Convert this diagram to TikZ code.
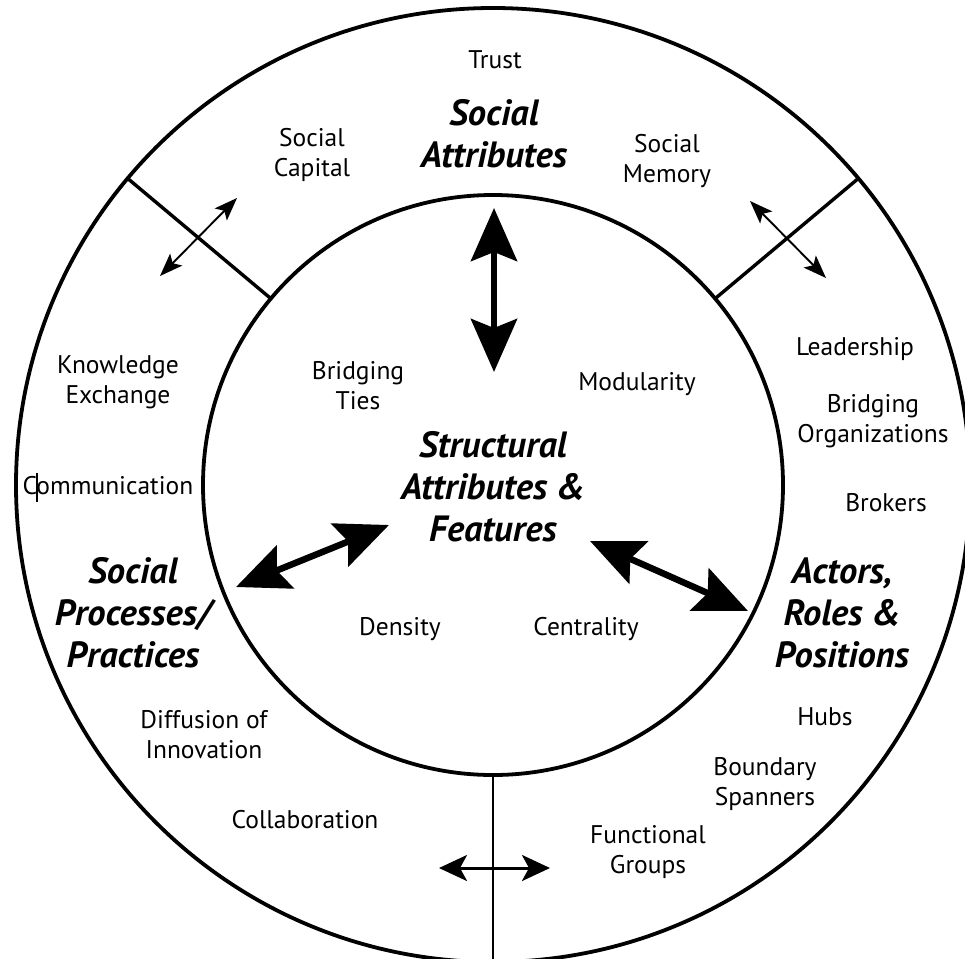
\documentclass[tikz,border=0pt]{standalone}
\usepackage{fontspec}
\setmainfont{PT Sans}
\usetikzlibrary{arrows.meta,calc}
\begin{document}
\begin{tikzpicture}[x=1pt,y=-1pt,
  lbl/.style={align=center, inner sep=0pt, font=\fontsize{25.5}{30}\selectfont},
  hdr/.style={align=center, inner sep=0pt, font=\fontsize{36.5}{42}\selectfont\bfseries\itshape},
  ring/.style={line width=3.8pt},
  divider/.style={line width=3.4pt},
  thinline/.style={line width=2pt},
  cursorbar/.style={line width=1.2pt},
  bigarrow/.style={line width=6.5pt, {Stealth[length=53pt,width=46pt,inset=9pt]}-{Stealth[length=53pt,width=46pt,inset=9pt]}},
  smallarrow/.style={line width=1.9pt, {Stealth[length=23pt,width=17pt,inset=5pt]}-{Stealth[length=23pt,width=17pt,inset=5pt]}},
  midarrow/.style={line width=3pt, {Stealth[length=28pt,width=26pt,inset=7pt]}-{Stealth[length=28pt,width=26pt,inset=7pt]}}
]
\useasboundingbox (0,0) rectangle (965,958);
\fill[white] (0,0) rectangle (965,958);

\coordinate (c) at (493,485);
% rings
\draw[ring] (c) circle[radius=477];
\draw[ring] (c) circle[radius=290];

% dividers
\coordinate (dlo) at ($(c)+(220:477)$);
\coordinate (dli) at ($(c)+(220:290)$);
\coordinate (dro) at ($(c)+(320:477)$);
\coordinate (dri) at ($(c)+(320:290)$);
\coordinate (dbo) at ($(c)+(90:477)$);
\coordinate (dbi) at ($(c)+(90:290)$);
\draw[divider] (dlo) -- (dli);
\draw[divider] (dro) -- (dri);
\draw[thinline] (dbi) -- (dbo);

% big arrows
\coordinate (va) at (494,208);
\coordinate (vb) at (494,372);
\coordinate (la) at (236,587);
\coordinate (lb) at (389,525);
\coordinate (ra) at (590,541);
\coordinate (rb) at (748,611);
\draw[bigarrow] (va) -- (vb);
\draw[bigarrow] (la) -- (lb);
\draw[bigarrow] (ra) -- (rb);

% small arrows
\coordinate (sla) at (160,276);
\coordinate (slb) at (237,198);
\coordinate (sra) at (750,201);
\coordinate (srb) at (826,278);
\coordinate (sba) at (439,868);
\coordinate (sbb) at (550,868);
\draw[smallarrow] (sla) -- (slb);
\draw[smallarrow] (sra) -- (srb);
\draw[midarrow] (sba) -- (sbb);

% labels
\node[lbl] (trust) at (495,60) {Trust};
\node[hdr] (socattr) at (494,134) {Social\\Attributes};
\node[lbl] (soccap) at (312,155) {Social\\Capital};
\node[lbl] (socmem) at (667,161) {Social\\Memory};
\node[lbl] (know) at (118,382) {Knowledge\\Exchange};
\node[lbl] (comm) at (108,486) {Communication};
\coordinate (cb1) at (37,473);
\coordinate (cb2) at (37,502);
\draw[cursorbar] (cb1) -- (cb2);
\node[hdr] (socproc) at (133,613) {Social\\Processes/\\Practices};
\node[lbl] (lead) at (855,349) {Leadership};
\node[lbl] (bridorg) at (873,421) {Bridging\\Organizations};
\node[lbl] (brok) at (886,503) {Brokers};
\node[hdr] (actors) at (842,613) {Actors,\\Roles \&\\Positions};
\node[lbl] (hubs) at (825,717) {Hubs};
\node[lbl] (bound) at (765,784) {Boundary\\Spanners};
\node[lbl] (func) at (648,852) {Functional\\Groups};
\node[lbl] (collab) at (305,820) {Collaboration};
\node[lbl] (diff) at (204,735) {Diffusion of\\Innovation};
\node[lbl] (bridties) at (358,386) {Bridging\\Ties};
\node[lbl] (modul) at (637,384) {Modularity};
\node[hdr] (struct) at (493,487) {Structural\\Attributes \&\\Features};
\node[lbl] (dens) at (400,629) {Density};
\node[lbl] (centr) at (586,629) {Centrality};
\end{tikzpicture}
\end{document}
